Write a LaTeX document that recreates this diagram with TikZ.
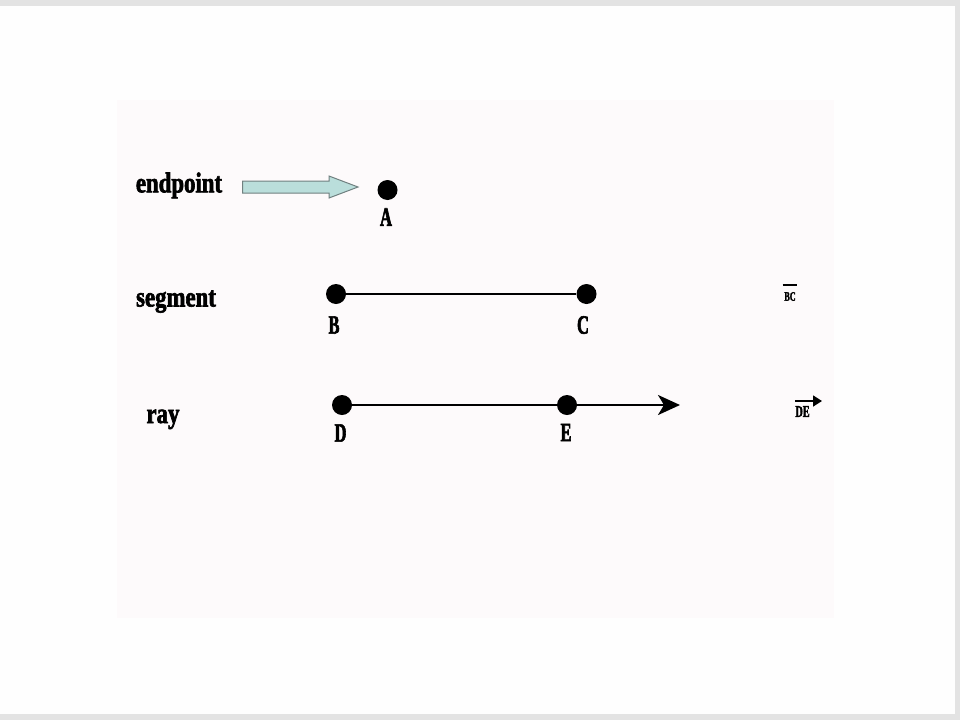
\documentclass[tikz,border=0pt]{standalone}
\usepackage{fontspec}
\setmainfont{Liberation Serif}
\newfontfamily\wordfont{Liberation Serif Bold}[FakeStretch=0.8,FakeBold=2.2]
\newfontfamily\letfont{Liberation Serif Bold}[FakeStretch=0.62,FakeBold=2.2]
\usetikzlibrary{arrows.meta}
\definecolor{framegray}{RGB}{227,227,227}
\definecolor{pagewhite}{RGB}{254,254,254}
\definecolor{panelpink}{RGB}{253,250,251}
\definecolor{arrowfill}{RGB}{186,222,219}
\definecolor{arrowedge}{RGB}{112,128,128}
\tikzset{
  word/.style={font=\wordfont\fontsize{28.5}{28.5}\selectfont, inner sep=0pt, anchor=base},
  ptlabel/.style={font=\letfont\fontsize{26.5}{26.5}\selectfont, inner sep=0pt},
  dot/.style={circle, fill=black, minimum size=20pt, inner sep=0pt},
  seg/.style={line width=2pt},
  raylinestyle/.style={line width=2.4pt, -{Stealth[length=22pt,width=20pt,inset=6pt]}},
  fatarrow/.style={fill=arrowfill, draw=arrowedge, line width=1pt},
  smallname/.style={font=\letfont\fontsize{#1}{#1}\selectfont, inner sep=0pt}
}
\begin{document}
\begin{tikzpicture}[x=1pt,y=-1pt]
\useasboundingbox (0,0) rectangle (960,720);
% frame and panel
\fill[framegray] (0,0) rectangle (960,720);
\fill[pagewhite] (0,6) rectangle (955,714);
\fill[panelpink] (117,100) rectangle (834,618);

% words
\node[word] (wend) at (179,192.3) {endpoint};
\node[word] (wseg) at (176,306.5) {segment};
\node[word] (wray) at (163,423) {ray};

% endpoint row
\node[dot] (A) at (387.5,190) {};
\node[ptlabel] (lA) at (386,217) {A};
\draw[fatarrow] (242.5,181) -- (329,181) -- (329,176) -- (358,187) -- (329,198) -- (329,193) -- (242.5,193) -- cycle;

% segment row
\node[dot] (B) at (336,294) {};
\node[dot] (C) at (586.5,294) {};
\node[ptlabel] (lB) at (334,325) {B};
\node[ptlabel] (lC) at (583,325) {C};
\draw[seg] (B) -- (C);

% ray row
\node[dot] (D) at (342,405) {};
\node[dot] (E) at (567,405) {};
\coordinate (tip) at (680,405);
\node[ptlabel] (lD) at (340.5,433) {D};
\node[ptlabel] (lE) at (566,432.5) {E};
\draw[raylinestyle] (D.center) -- (tip);

% notation
\node[smallname=13] (bc) at (790,296.5) {BC};
\draw[line width=1.5pt] (782.5,285) -- (797,285);
\node[smallname=16.5] (de) at (802.5,411.5) {DE};
\draw[line width=1.6pt, -{Triangle[length=9pt,width=11pt]}] (795,401) -- (822,401);
\end{tikzpicture}
\end{document}
